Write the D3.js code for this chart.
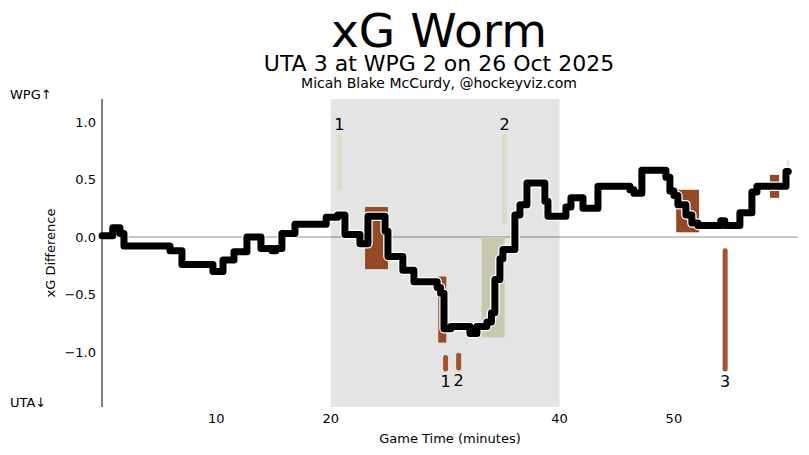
<!DOCTYPE html>
<html><head><meta charset="utf-8">
<script src="https://cdn.jsdelivr.net/npm/d3@7"></script>
<style>body{margin:0;background:#fff}svg{font-family:"DejaVu Sans",sans-serif}</style>
</head><body>
<svg id="c" width="809" height="455"></svg>
<script>
// Worm: cumulative xG difference (WPG - UTA), step times (minutes) and values
const wormTimes = [0, 0.94, 1.57, 1.92, 5.94, 6.99, 9.70, 10.58, 11.54, 12.67, 13.90, 14.86, 15.2, 15.73, 16.87, 19.6, 20.6,
  21.24, 22.55, 23.25, 24.75, 25.0, 26.3, 27.27, 29.3, 29.6, 29.9, 30.5, 32.17, 32.78, 33.65, 34.05, 34.35, 34.79, 35.05,
  36.1, 36.54, 37.15, 38.72, 38.99, 40.56, 41.0, 42.05, 43.36, 46.15, 46.5, 47.2, 49.3, 49.65, 50.0, 50.35, 51.05, 51.57,
  52.1, 54.1, 54.45, 55.77, 56.82, 57.26, 59.8, 60.0];
const wormValues = [0.01, 0.08, 0.03, -0.08, -0.12, -0.24, -0.30, -0.20, -0.13, 0.00, -0.10, -0.12, -0.10, 0.03, 0.11, 0.17, 0.19,
  0.02, -0.06, 0.18, 0.05, -0.17, -0.29, -0.39, -0.44, -0.49, -0.80, -0.78, -0.84, -0.78, -0.74, -0.66, -0.37, -0.19, -0.11,
  0.19, 0.28, 0.47, 0.31, 0.18, 0.26, 0.34, 0.25, 0.44, 0.41, 0.38, 0.58, 0.52, 0.40, 0.36, 0.28, 0.19, 0.12,
  0.10, 0.14, 0.10, 0.21, 0.39, 0.44, 0.57, 0.57];

// Power-play boxes
const ppStart = [23.0, 29.4, 33.2, 50.2, 58.4];
const ppEnd   = [25.0, 30.1, 35.2, 52.2, 59.2];
const ppTop   = [0.26, -0.345, 0.0, 0.41, 0.54];
const ppBottom= [-0.28, -0.92, -0.875, 0.04, 0.34];
const ppTeam  = ["UTA", "UTA", "WPG", "UTA", "UTA"];

// Goals
const goalTimes = [20.76, 35.2, 30.04, 31.18, 54.48];
const goalTop   = [0.87, 0.87, -1.05, -1.03, -0.12];
const goalBottom= [0.43, 0.13, -1.15, -1.14, -1.15];
const goalTeam  = ["WPG", "WPG", "UTA", "UTA", "UTA"];
const goalLabels= ["1", "2", "1", "2", "3"];

// small shot marker at the end
const shotTimes = [59.97];
const shotTop = [0.67];
const shotBottom = [0.60];

const xTicks = [10, 20, 40, 50];
const yTicks = [1.0, 0.5, 0.0, -0.5, -1.0];
const period2 = [20, 40];

const svg = d3.select("#c");
const x = d3.scaleLinear().domain([0, 60.85]).range([102, 798]);
const y = d3.scaleLinear().domain([-1.48, 1.2]).range([407, 99]);

const colors = {UTA: "#954a27", WPG: "#c8c8b0"};
const goalColors = {UTA: "#a3522c", WPG: "#dcdcc6"};

// shaded 2nd period
svg.append("rect").attr("x", x(period2[0])).attr("y", y(1.2))
  .attr("width", x(period2[1]) - x(period2[0])).attr("height", y(-1.48) - y(1.2)).attr("fill", "#e4e4e4");

// zero line
svg.append("line").attr("x1", x(0)).attr("x2", x(60.85)).attr("y1", y(0)).attr("y2", y(0))
  .attr("stroke", "rgba(0,0,0,0.22)").attr("stroke-width", 2);

// power play boxes
svg.selectAll("rect.pp").data(ppStart).join("rect").attr("class", "pp")
  .attr("x", (d, i) => x(d)).attr("width", (d, i) => x(ppEnd[i]) - x(d))
  .attr("y", (d, i) => y(ppTop[i])).attr("height", (d, i) => y(ppBottom[i]) - y(ppTop[i]))
  .attr("fill", (d, i) => colors[ppTeam[i]]);

// goals
svg.selectAll("line.goal").data(goalTimes).join("line").attr("class", "goal")
  .attr("x1", d => x(d)).attr("x2", d => x(d))
  .attr("y1", (d, i) => y(goalTop[i])).attr("y2", (d, i) => y(goalBottom[i]))
  .attr("stroke", (d, i) => goalColors[goalTeam[i]]).attr("stroke-width", 5).attr("stroke-linecap", "round");
svg.selectAll("text.glab").data(goalTimes).join("text").attr("class", "glab")
  .attr("x", d => x(d)).attr("y", (d, i) => goalTeam[i] === "WPG" ? y(goalTop[i]) - 7 : y(goalBottom[i]) + 18)
  .attr("text-anchor", "middle").attr("font-size", 16).attr("fill", "#000").text((d, i) => goalLabels[i]);

// shot marker
svg.selectAll("line.shot").data(shotTimes).join("line").attr("class", "shot")
  .attr("x1", d => x(d)).attr("x2", d => x(d))
  .attr("y1", (d, i) => y(shotTop[i])).attr("y2", (d, i) => y(shotBottom[i]))
  .attr("stroke", goalColors.WPG).attr("stroke-width", 1.5);

// worm
const pts = wormTimes.map((t, i) => [t, wormValues[i]]);
const line = d3.line().x(d => x(d[0])).y(d => y(d[1])).curve(d3.curveStepAfter);
svg.append("path").attr("d", line(pts)).attr("fill", "none").attr("stroke", "#fff")
  .attr("stroke-width", 9.5).attr("stroke-linejoin", "round").attr("stroke-linecap", "round");
svg.append("path").attr("d", line(pts)).attr("fill", "none").attr("stroke", "#000")
  .attr("stroke-width", 7).attr("stroke-linejoin", "round").attr("stroke-linecap", "round");

// left spine
svg.append("line").attr("x1", x(0)).attr("x2", x(0)).attr("y1", y(1.2)).attr("y2", y(-1.48))
  .attr("stroke", "#000").attr("stroke-width", 1);

// axes tick labels
const fmt = d3.format(".1f");
svg.selectAll("text.yt").data(yTicks).join("text").attr("class", "yt")
  .attr("x", 96).attr("y", d => y(d) + 5).attr("text-anchor", "end").attr("font-size", 13)
  .text(d => fmt(d).replace("-", "\u2212"));
svg.selectAll("text.xt").data(xTicks).join("text").attr("class", "xt")
  .attr("x", d => x(d)).attr("y", 423).attr("text-anchor", "middle").attr("font-size", 13).text(d => d);

svg.append("text").attr("x", 450).attr("y", 443).attr("text-anchor", "middle").attr("font-size", 13)
  .text("Game Time (minutes)");
svg.append("text").attr("transform", "translate(55,253) rotate(-90)").attr("text-anchor", "middle")
  .attr("font-size", 13).text("xG Difference");

svg.append("text").attr("x", 10).attr("y", 99).attr("font-size", 13).text("WPG\u2191");
svg.append("text").attr("x", 10).attr("y", 407).attr("font-size", 13).text("UTA\u2193");

// titles
svg.append("text").attr("x", 439).attr("y", 47).attr("text-anchor", "middle").attr("font-size", 47).text("xG Worm");
svg.append("text").attr("x", 439).attr("y", 71).attr("text-anchor", "middle").attr("font-size", 22).text("UTA 3 at WPG 2 on 26 Oct 2025");
svg.append("text").attr("x", 439).attr("y", 88).attr("text-anchor", "middle").attr("font-size", 14).text("Micah Blake McCurdy, @hockeyviz.com");
</script>
</body></html>
